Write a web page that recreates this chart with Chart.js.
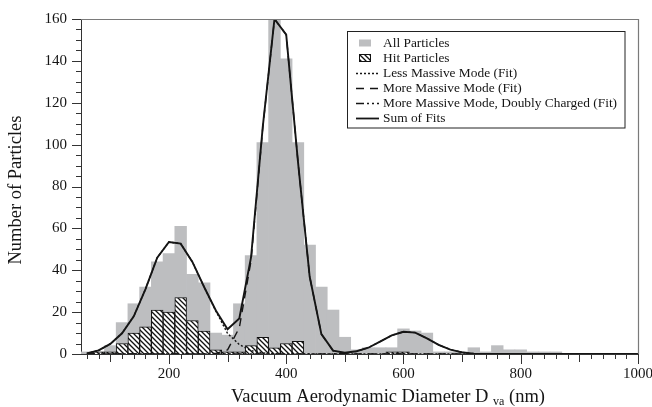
<!DOCTYPE html>
<html><head><meta charset="utf-8">
<script src="https://cdn.jsdelivr.net/npm/chart.js@4.4.0/dist/chart.umd.min.js"></script>
<style>html,body{margin:0;padding:0;background:#fff}#wrap{width:652px;height:407px;position:relative}canvas{display:block}</style>
</head><body><div id="wrap"><canvas id="c" width="652" height="407"></canvas></div>
<script>
// ---- data ----
const binCenters = [60,80,100,120,140,160,180,200,220,240,260,280,300,320,340,360,380,400,420,440,460,480,500,520,540,560,580,600,620,640,660,680,700,720,740,760,780,800,820,840,860,880,900,920,940,960,980,1000];
const allParticles = [1,1,4,15,24,32,44,48,61,38,34,10,9,24,47,101,160,141,101,52,32,21,8,2,3,3,3,12,11,10,1,1,1,3,1,4,2,2,1,1,1,0,0,0,0,0,0,0];
const hitParticles = [0,1,1,5,10,13,21,20,27,16,11,2,1,1,4,8,3,5,6,0,0,0,0,0,0,0,1,1,0,0,0,0,0,0,0,0,0,0,0,0,0,0,0,0,0,0,0,0];
const lessMassiveFit = [0.3,1.7,4.8,9.9,18,31,46,53.5,52.7,44,32,20.5,9.8,4.5,1.6,0.5,0.1,0,0,0,0,0,0,0,0,0,0,0,0,0,0,0,0,0,0,0,0,0,0,0,0,0,0,0,0,0,0,0];
const moreMassiveFit = [0,0,0,0,0,0,0,0,0,0,0,0.3,2,12.5,44.5,108,160,152.5,92,37,9.5,1.5,0.2,0,0,0,0,0,0,0,0,0,0,0,0,0,0,0,0,0,0,0,0,0,0,0,0,0];
const doublyChargedFit = [0,0,0,0,0,0,0,0,0,0,0,0,0,0,0,0,0,0,0,0,0,0.1,0.4,1.3,3.0,5.9,8.9,10.6,10.2,7.5,4.4,2.1,0.8,0.2,0.05,0,0,0,0,0,0,0,0,0,0,0,0,0];
const sumOfFits = [0.3,1.7,4.8,9.9,18,31,46,53.5,52.7,44,32,20.8,11.8,17,46.1,108.5,160,152.5,92,37,9.5,1.6,0.6,1.3,3.0,5.9,8.9,10.6,10.2,7.5,4.4,2.1,0.8,0.2,0.05,0,0,0,0,0,0,0,0,0,0,0,0,0];
const xTickLabels = [200,400,600,800,1000];
const yTickLabels = [0,20,40,60,80,100,120,140,160];
const legendLabels = ['All Particles','Hit Particles','Less Massive Mode (Fit)','More Massive Mode (Fit)','More Massive Mode, Doubly Charged (Fit)','Sum of Fits'];
const xTitleMain = 'Vacuum Aerodynamic Diameter D';
const xTitleSub = 'va';
const xTitleEnd = ' (nm)';
const yTitle = 'Number of Particles';

const SERIF = '"Liberation Serif", "Times New Roman", Times, serif';
const GRAY = '#bdbec0';
const INK = '#151515';

const canvas = document.getElementById('c');
const ctx0 = canvas.getContext('2d');
function makeHatch(){
  const s = 5, t = document.createElement('canvas');
  t.width = s; t.height = s;
  const c = t.getContext('2d');
  c.fillStyle = '#fff'; c.fillRect(0,0,s,s);
  c.strokeStyle = '#111'; c.lineWidth = 1.3;
  c.beginPath();
  c.moveTo(-1,-1); c.lineTo(s+1,s+1);
  c.moveTo(-1,s-1); c.lineTo(1,s+1);
  c.moveTo(s-1,-1); c.lineTo(s+1,1);
  c.stroke();
  return ctx0.createPattern(t,'repeat');
}
const hatch = makeHatch();

const pts = arr => binCenters.map((x,i)=>({x:x, y:arr[i]}));
const barPts = arr => binCenters.map((x,i)=>({x:x, y:arr[i] > 0 ? arr[i] : null}));

const decor = {
  id:'decor',
  afterDraw(chart){
    const ctx = chart.ctx, a = chart.chartArea;
    const xs = chart.scales.x, ys = chart.scales.y;
    ctx.save();
    ctx.strokeStyle = '#7a7a7a'; ctx.lineWidth = 1.2;
    ctx.beginPath();
    ctx.moveTo(a.left, a.top+0.5); ctx.lineTo(a.right+0.5, a.top+0.5); ctx.lineTo(a.right+0.5, a.bottom);
    ctx.stroke();
    ctx.strokeStyle = '#333'; ctx.lineWidth = 1;
    ctx.beginPath();
    for (let v = 60; v <= 1000; v += 20){
      const px = Math.round(xs.getPixelForValue(v)) + 0.5;
      const len = v % 200 === 0 ? 10 : (v % 100 === 0 ? 8 : 5);
      ctx.moveTo(px, a.bottom); ctx.lineTo(px, a.bottom + len);
    }
    for (let v = 0; v <= 160; v += 5){
      const py = Math.round(ys.getPixelForValue(v)) + 0.5;
      const len = v % 20 === 0 ? 9 : 5;
      ctx.moveTo(a.left, py); ctx.lineTo(a.left - len, py);
    }
    ctx.stroke();
    // legend
    const lx = 347.5, ly = 31.5, lw = 277.5, lh = 96.5;
    ctx.fillStyle = '#fff'; ctx.fillRect(lx, ly, lw, lh);
    ctx.strokeStyle = '#222'; ctx.lineWidth = 1; ctx.strokeRect(lx, ly, lw, lh);
    const rowY = i => 43 + i*15;
    ctx.font = '13.4px ' + SERIF; ctx.fillStyle = INK; ctx.textBaseline = 'middle'; ctx.textAlign = 'left';
    legendLabels.forEach((t,i)=>ctx.fillText(t, 383, rowY(i)+0.5));
    ctx.fillStyle = GRAY; ctx.fillRect(359, rowY(0)-3.5, 12, 7);
    ctx.fillStyle = hatch; ctx.fillRect(359.5, rowY(1)-3.5, 11, 7);
    ctx.strokeStyle = '#111'; ctx.lineWidth = 1; ctx.strokeRect(359.5, rowY(1)-3.5, 11, 7);
    const dashes = [[2,2],[8,6],[8,3,2,3,2,3],[]];
    dashes.forEach((d,k)=>{
      ctx.setLineDash(d); ctx.lineWidth = k===3 ? 1.8 : 1.4; ctx.strokeStyle = INK;
      ctx.beginPath(); ctx.moveTo(356, rowY(k+2)+0.5); ctx.lineTo(379, rowY(k+2)+0.5); ctx.stroke();
    });
    ctx.setLineDash([]);
    // x title with subscript
    ctx.fillStyle = INK; ctx.textBaseline = 'alphabetic';
    const fMain = '18.5px ' + SERIF, fSub = '12px ' + SERIF;
    ctx.font = fMain; const w1 = ctx.measureText(xTitleMain + ' ').width, w3 = ctx.measureText(xTitleEnd).width;
    ctx.font = fSub; const w2 = ctx.measureText(xTitleSub).width;
    let x0 = 388 - (w1 + w2 + w3)/2; const by = 402;
    ctx.font = fMain; ctx.fillText(xTitleMain + ' ', x0, by);
    ctx.font = fSub; ctx.fillText(xTitleSub, x0 + w1, by + 3);
    ctx.font = fMain; ctx.fillText(xTitleEnd, x0 + w1 + w2, by);
    ctx.translate(16, 190); ctx.rotate(-Math.PI/2);
    ctx.textAlign = 'center'; ctx.textBaseline = 'middle'; ctx.font = fMain;
    ctx.fillText(yTitle, 0, 0);
    ctx.restore();
  }
};

function build(){
new Chart(canvas, {
  type: 'bar',
  data: {
    datasets: [
      {type:'line', label:legendLabels[5], data:pts(sumOfFits), borderColor:INK, borderWidth:1.9, pointRadius:0, tension:0, order:0},
      {type:'line', label:legendLabels[2], data:pts(lessMassiveFit), borderColor:INK, borderWidth:1.4, borderDash:[2,2], pointRadius:0, tension:0, order:1},
      {type:'line', label:legendLabels[3], data:pts(moreMassiveFit), borderColor:INK, borderWidth:1.4, borderDash:[8,6], pointRadius:0, tension:0, order:2},
      {type:'line', label:legendLabels[4], data:pts(doublyChargedFit), borderColor:INK, borderWidth:1.4, borderDash:[8,3,2,3,2,3], pointRadius:0, tension:0, order:3},
      {type:'bar', label:legendLabels[1], data:barPts(hitParticles), backgroundColor:hatch, borderColor:'#111', borderWidth:1, grouped:false, barPercentage:1, categoryPercentage:1, order:5},
      {type:'bar', label:legendLabels[0], data:barPts(allParticles), backgroundColor:GRAY, borderWidth:0, grouped:false, barPercentage:1, categoryPercentage:1, order:6}
    ]
  },
  options: {
    responsive:false, animation:false, devicePixelRatio:1,
    layout:{padding:{left:0, right:14, top:19, bottom:0}},
    plugins:{legend:{display:false}, tooltip:{enabled:false}},
    scales:{
      x:{type:'linear', min:50, max:1000, offset:false,
         grid:{display:false, drawTicks:false},
         border:{display:true, color:'#333', width:1},
         afterBuildTicks: s => { s.ticks = xTickLabels.map(v=>({value:v})); },
         afterFit: s => { s.height = 53; s.paddingLeft = 0; s.paddingRight = 0; },
         ticks:{padding:11, maxRotation:0, autoSkip:false, color:INK, font:{family:SERIF, size:15}, callback: v => String(v)}},
      y:{min:0, max:160,
         grid:{display:false, drawTicks:false},
         border:{display:true, color:'#333', width:1},
         afterBuildTicks: s => { s.ticks = yTickLabels.map(v=>({value:v})); },
         afterFit: s => { s.width = 81; s.paddingTop = 0; s.paddingBottom = 0; },
         ticks:{padding:14, color:INK, font:{family:SERIF, size:15}, callback: v => String(v)}}
    }
  },
  plugins:[decor]
});
}
Promise.all([
  document.fonts.load('15px "Liberation Serif"'),
  document.fonts.load('11px "Liberation Serif"')
]).then(build, build);
</script>
</body></html>
